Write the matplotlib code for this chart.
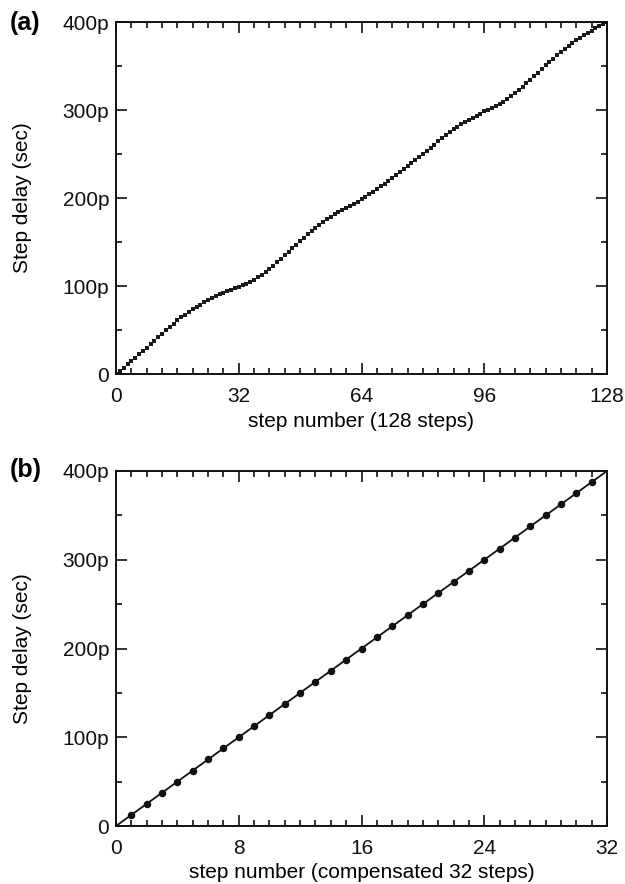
# Step delay plots: (a) raw 128-step delay line, (b) compensated 32 steps
import numpy as np
import matplotlib
matplotlib.use('Agg')
import matplotlib.pyplot as plt
from matplotlib.ticker import MultipleLocator, FuncFormatter

plt.rcParams['font.family'] = ['Liberation Sans', 'DejaVu Sans']

steps_a = list(range(129))
delay_a = [
    0.0, 3.6, 7.3, 11.0, 14.8, 18.6, 22.4, 26.2, 30.0, 33.9,
    37.8, 41.7, 45.6, 49.5, 53.4, 57.2, 61.0, 64.4, 67.6, 70.6,
    73.5, 76.2, 78.8, 81.3, 83.8, 86.1, 88.3, 90.4, 92.3, 94.1,
    95.8, 97.4, 99.0, 100.8, 102.8, 105.0, 107.4, 110.0, 112.9, 116.0,
    119.4, 123.0, 126.8, 130.7, 134.7, 138.8, 142.9, 147.0, 151.1, 155.1,
    159.0, 162.8, 166.4, 169.8, 173.0, 176.0, 178.8, 181.4, 183.8, 186.1,
    188.4, 190.7, 193.0, 195.8, 199.0, 201.5, 204.2, 207.1, 210.1, 213.2,
    216.3, 219.4, 222.5, 225.8, 229.2, 232.7, 236.2, 239.7, 243.2, 246.6,
    250.0, 253.6, 257.2, 260.8, 264.4, 267.9, 271.3, 274.7, 277.9, 281.0,
    283.8, 286.4, 288.8, 291.0, 293.2, 295.6, 298.4, 300.4, 302.4, 304.5,
    306.8, 309.4, 312.3, 315.5, 319.0, 322.6, 326.4, 330.3, 334.3, 338.4,
    342.5, 346.6, 350.6, 354.6, 358.5, 362.3, 366.0, 369.6, 373.0, 376.2,
    379.3, 382.2, 385.0, 387.7, 390.3, 392.8, 395.2, 397.6, 399.8,
]

# (b) compensated step delay in ps, steps 0..32
steps_b = list(range(33))
delay_b = [
    0.0, 12.5, 25.0, 37.5, 50.0, 62.5, 75.0, 87.5, 100.0, 112.5,
    125.0, 137.5, 150.0, 162.5, 175.0, 187.5, 200.0, 212.5, 225.0, 237.5,
    250.0, 262.5, 275.0, 287.5, 300.0, 312.5, 325.0, 337.5, 350.0, 362.5,
    375.0, 387.5, 400.0,
]

FS = 15


def ps_label(v, pos):
    if abs(v) < 1e-9:
        return '0'
    return '%dp' % int(round(v))


def style_axes(ax, xmax, xmajor, xminor):
    ax.set_xlim(0, xmax)
    ax.set_ylim(0, 400)
    ax.xaxis.set_major_locator(MultipleLocator(xmajor))
    ax.xaxis.set_minor_locator(MultipleLocator(xminor))
    ax.yaxis.set_major_locator(MultipleLocator(100))
    ax.yaxis.set_minor_locator(MultipleLocator(50))
    ax.yaxis.set_major_formatter(FuncFormatter(ps_label))
    ax.tick_params(which='both', direction='in', top=True, right=True,
                   width=1.2, labelsize=FS, colors='#111111')
    ax.tick_params(which='major', length=8, pad=5)
    ax.tick_params(axis='x', which='major', pad=9)
    ax.tick_params(which='minor', length=4)
    for s in ax.spines.values():
        s.set_linewidth(1.4)
        s.set_color('#111111')
    ax.set_ylabel('Step delay (sec)', fontsize=FS, va='center')
    ax.yaxis.set_label_coords(-0.19, 0.5)


fig = plt.figure(figsize=(6.25, 8.84), dpi=100)

ax1 = fig.add_axes([0.1856, 0.5769, 0.7856, 0.3982])
ax1.plot(steps_a, delay_a, linestyle='none', marker='s', markersize=2.4,
         color='#1a1a1a', markeredgewidth=0)
style_axes(ax1, 128, 32, 4)
ax1.set_xlabel('step number (128 steps)', fontsize=FS, labelpad=5)
fig.text(0.016, 0.974, '(a)', fontsize=18, fontweight='bold', va='center')

ax2 = fig.add_axes([0.1856, 0.0656, 0.7856, 0.4016])
ax2.plot(steps_b, delay_b, '-', color='#111111', linewidth=1.3,
         marker='o', markersize=4.4, markevery=list(range(1, 32)))
style_axes(ax2, 32, 8, 1)
ax2.set_xlabel('step number (compensated 32 steps)', fontsize=FS, labelpad=4)
fig.text(0.016, 0.468, '(b)', fontsize=18, fontweight='bold', va='center')

fig.savefig('out.png', dpi=100)
